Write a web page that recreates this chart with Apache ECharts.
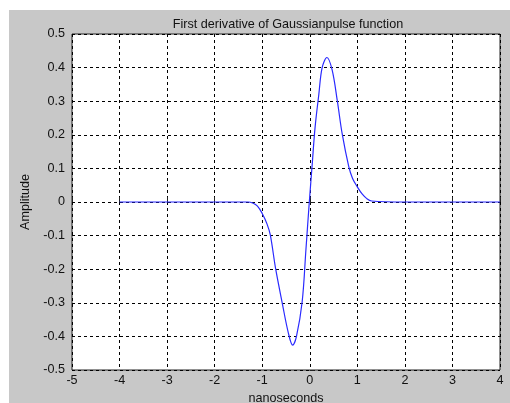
<!DOCTYPE html>
<html>
<head>
<meta charset="utf-8">
<script src="https://cdn.jsdelivr.net/npm/echarts@6/dist/echarts.min.js"></script>
<style>
html, body { margin: 0; padding: 0; background: #fff; }
#chart { position: absolute; left: 9px; top: 10px; width: 501px; height: 393px; background: #c8c8c8; }
</style>
</head>
<body>
<div id="chart"></div>
<script>
// pulse (time in ns, amplitude)
var times = [-4, -1.5, -1.3, -1.2, -1.1, -1.0, -0.9, -0.83, -0.72, -0.58, -0.45, -0.36, -0.28, -0.16, -0.08, -0.01,
             0.05, 0.11, 0.19, 0.26, 0.36, 0.47, 0.58, 0.68, 0.82, 0.9, 1.0, 1.1, 1.2, 1.3, 2, 3.1, 4];
var amps = [0, 0, 0, -0.003, -0.012, -0.034, -0.065, -0.098, -0.197, -0.30, -0.39, -0.426, -0.40, -0.297, -0.14, 0,
            0.11, 0.22, 0.32, 0.40, 0.43, 0.393, 0.30, 0.204, 0.105, 0.07, 0.045, 0.024, 0.01, 0.003, 0, 0, 0];

var chart = echarts.init(document.getElementById('chart'));
var pts = times.map(function (t, i) { return [t, amps[i]]; });

var txt = { color: '#111', fontFamily: 'Liberation Sans', fontSize: 12.6 };

chart.setOption({
    animation: false,
    title: {
        text: 'First derivative of Gaussianpulse function',
        left: 274, top: 3, textAlign: 'center',
        textStyle: { color: '#111', fontFamily: 'Liberation Sans', fontSize: 12.6, fontWeight: 'normal' }
    },
    grid: {
        left: 63, top: 24, right: 10, bottom: 33,
        outerBoundsMode: 'none',
        show: true, backgroundColor: '#fff', borderColor: '#222', borderWidth: 1
    },
    xAxis: {
        type: 'value', min: -5, max: 4, interval: 1,
        name: 'nanoseconds', nameLocation: 'middle', nameGap: 21,
        nameTextStyle: txt,
        axisLine: { show: false },
        axisTick: { inside: true, length: 5, lineStyle: { color: '#222' } },
        axisLabel: Object.assign({ margin: 4 }, txt),
        splitLine: { lineStyle: { color: '#000', type: [3, 3], width: 1 } }
    },
    yAxis: {
        type: 'value', min: -0.5, max: 0.5, interval: 0.1,
        name: 'Amplitude', nameLocation: 'middle', nameGap: 36,
        nameTextStyle: txt,
        axisLine: { show: false },
        axisTick: { inside: true, length: 5, lineStyle: { color: '#222' } },
        axisLabel: Object.assign({
            margin: 7,
            formatter: function (v) { return v === 0 ? '0' : String(+v.toFixed(1)); }
        }, txt),
        splitLine: { lineStyle: { color: '#000', type: [3, 3], width: 1 } }
    },
    series: [{
        type: 'line',
        data: pts,
        smooth: 0.35,
        showSymbol: false,
        lineStyle: { color: '#2a2aff', width: 1.2 }
    }]
});
</script>
</body>
</html>
